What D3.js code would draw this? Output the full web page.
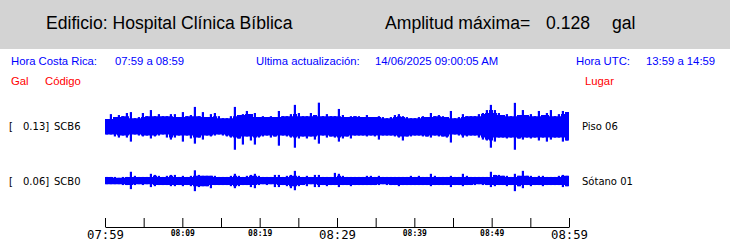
<!DOCTYPE html>
<html>
<head>
<meta charset="utf-8">
<script src="https://cdn.jsdelivr.net/npm/d3@7"></script>
<style>
  body { margin: 0; background: #fff; }
  svg { display: block; }
</style>
</head>
<body>
<svg id="chart"></svg>
<script>
// header info
var building = "Edificio: Hospital Clínica Bíblica";
var maxAmplitude = "0.128";
var timeCR = "07:59 a 08:59";
var timeUTC = "13:59 a 14:59";
var lastUpdate = "14/06/2025 09:00:05 AM";

// stations
var stations = ["SCB6", "SCB0"];
var places = ["Piso 06", "Sótano 01"];
var peaks = ["0.13", "0.06"];

// envelope of each trace in gal, one value per time bin (max above, min below)
var scb6Max = [0.039, 0.066, 0.050, 0.061, 0.055, 0.072, 0.077, 0.044, 0.050, 0.072, 0.055, 0.088, 0.055, 0.066, 0.055, 0.055, 0.066, 0.066, 0.050, 0.077, 0.055, 0.061, 0.105, 0.055, 0.077, 0.050, 0.066, 0.072, 0.055,
  0.044, 0.044, 0.055, 0.105, 0.061, 0.066, 0.083, 0.066, 0.072, 0.050, 0.055, 0.050, 0.055, 0.050, 0.083, 0.055, 0.055, 0.066, 0.116, 0.072, 0.055, 0.055, 0.072, 0.061, 0.128, 0.055, 0.066, 0.055, 0.055,
  0.094, 0.061, 0.050, 0.055, 0.055, 0.055, 0.050, 0.061, 0.050, 0.050, 0.055, 0.050, 0.044, 0.050, 0.061, 0.066, 0.055, 0.050, 0.044, 0.044, 0.050, 0.055, 0.050, 0.072, 0.055, 0.061, 0.055, 0.050, 0.083,
  0.044, 0.050, 0.066, 0.055, 0.055, 0.055, 0.066, 0.072, 0.088, 0.116, 0.088, 0.072, 0.061, 0.066, 0.055, 0.127, 0.061, 0.088, 0.061, 0.066, 0.055, 0.083, 0.061, 0.072, 0.088, 0.055, 0.066, 0.083, 0.077];
var scb6Min = [-0.044, -0.044, -0.055, -0.061, -0.050, -0.061, -0.083, -0.044, -0.050, -0.055, -0.050, -0.066, -0.055, -0.050, -0.044, -0.061, -0.072, -0.061, -0.050, -0.083, -0.050, -0.066, -0.094, -0.061, -0.072, -0.050, -0.055, -0.050, -0.044,
  -0.050, -0.055, -0.061, -0.127, -0.066, -0.099, -0.055, -0.077, -0.099, -0.061, -0.055, -0.050, -0.061, -0.055, -0.105, -0.050, -0.055, -0.061, -0.116, -0.066, -0.055, -0.066, -0.055, -0.072, -0.094, -0.050, -0.061, -0.055, -0.061,
  -0.083, -0.066, -0.055, -0.066, -0.050, -0.050, -0.050, -0.055, -0.050, -0.055, -0.072, -0.050, -0.050, -0.050, -0.055, -0.061, -0.077, -0.055, -0.055, -0.050, -0.050, -0.055, -0.055, -0.061, -0.050, -0.055, -0.055, -0.061, -0.088,
  -0.044, -0.050, -0.061, -0.055, -0.050, -0.050, -0.061, -0.072, -0.077, -0.116, -0.083, -0.061, -0.061, -0.066, -0.061, -0.127, -0.066, -0.072, -0.061, -0.066, -0.061, -0.077, -0.061, -0.083, -0.072, -0.061, -0.061, -0.083, -0.077];
var scb0Max = [0.022, 0.022, 0.022, 0.017, 0.022, 0.022, 0.050, 0.028, 0.022, 0.022, 0.022, 0.039, 0.033, 0.028, 0.022, 0.028, 0.033, 0.033, 0.022, 0.028, 0.022, 0.028, 0.058, 0.033, 0.028, 0.028, 0.028, 0.028, 0.022,
  0.022, 0.022, 0.028, 0.039, 0.028, 0.022, 0.028, 0.033, 0.039, 0.028, 0.022, 0.022, 0.022, 0.033, 0.033, 0.022, 0.028, 0.033, 0.055, 0.028, 0.022, 0.028, 0.022, 0.033, 0.033, 0.022, 0.022, 0.022, 0.044,
  0.039, 0.028, 0.022, 0.022, 0.022, 0.022, 0.022, 0.028, 0.028, 0.022, 0.028, 0.022, 0.022, 0.022, 0.022, 0.022, 0.022, 0.022, 0.028, 0.022, 0.028, 0.022, 0.022, 0.039, 0.028, 0.022, 0.022, 0.022, 0.028,
  0.022, 0.022, 0.039, 0.028, 0.022, 0.022, 0.022, 0.022, 0.022, 0.050, 0.033, 0.033, 0.028, 0.028, 0.022, 0.039, 0.028, 0.055, 0.028, 0.028, 0.022, 0.028, 0.028, 0.022, 0.022, 0.022, 0.028, 0.033, 0.028];
var scb0Min = [-0.017, -0.017, -0.017, -0.017, -0.022, -0.022, -0.044, -0.022, -0.017, -0.022, -0.017, -0.033, -0.028, -0.022, -0.022, -0.022, -0.028, -0.028, -0.022, -0.028, -0.022, -0.028, -0.055, -0.033, -0.028, -0.028, -0.039, -0.022, -0.022,
  -0.022, -0.022, -0.028, -0.039, -0.028, -0.022, -0.022, -0.033, -0.039, -0.022, -0.017, -0.022, -0.017, -0.033, -0.033, -0.022, -0.028, -0.039, -0.050, -0.028, -0.022, -0.028, -0.017, -0.033, -0.033, -0.022, -0.028, -0.022, -0.022,
  -0.033, -0.022, -0.022, -0.028, -0.022, -0.022, -0.022, -0.022, -0.022, -0.022, -0.022, -0.017, -0.022, -0.022, -0.022, -0.028, -0.022, -0.022, -0.022, -0.022, -0.022, -0.022, -0.022, -0.028, -0.022, -0.022, -0.022, -0.022, -0.033,
  -0.022, -0.022, -0.028, -0.022, -0.022, -0.022, -0.017, -0.022, -0.022, -0.033, -0.028, -0.022, -0.022, -0.028, -0.022, -0.055, -0.028, -0.039, -0.022, -0.028, -0.022, -0.022, -0.028, -0.022, -0.022, -0.022, -0.022, -0.033, -0.028];

// time axis, minutes after 07:59
var tickMinutes = [0, 5, 10, 15, 20, 25, 30, 35, 40, 45, 50, 55, 60];
var tickLabels = ["07:59", "", "08:09", "", "08:19", "", "08:29", "", "08:39", "", "08:49", "", "08:59"];
var bigLabels = ["07:59", "08:29", "08:59"];

var width = 730,
  height = 247;
var t0 = new Date(2025, 5, 14, 7, 59);
var t1 = new Date(2025, 5, 14, 8, 59);

var svg = d3.select("svg#chart").attr("width", width).attr("height", height);

var scaleX = d3.scaleTime().domain([t0, t1]).range([105, 569]);

var scaleY = d3.scaleLinear().domain([-0.13, 0.13]).range([24, -24]);

var traceCenters = [126.3, 181];

// header band
svg.append("rect")
  .attr("x", 0)
  .attr("y", 0)
  .attr("width", width)
  .attr("height", 49)
  .attr("fill", "#d3d3d3");

function addText(x, y, txt, size, color, family) {
  return svg.append("text")
    .attr("x", x)
    .attr("y", y)
    .attr("font-family", family || "'Liberation Sans', Arial, sans-serif")
    .attr("font-size", size)
    .attr("fill", color)
    .text(txt);
}

addText(46, 29, building, 17.6, "#000");
addText(385, 29, "Amplitud máxima=", 17.6, "#000");
addText(546, 29, maxAmplitude, 17.6, "#000");
addText(612, 29, "gal", 17.6, "#000");

addText(11, 65, "Hora Costa Rica:", 11.3, "#0000ff");
addText(115, 65, timeCR, 11.3, "#0000ff");
addText(256, 65, "Ultima actualización:", 11.3, "#0000ff");
addText(375, 65, lastUpdate, 11.3, "#0000ff");
addText(576, 65, "Hora UTC:", 11.3, "#0000ff");
addText(646, 65, timeUTC, 11.3, "#0000ff");

addText(11, 85, "Gal", 11.3, "#ff0000");
addText(45, 85, "Código", 11.3, "#ff0000");
addText(585, 85, "Lugar", 11.3, "#ff0000");

// traces
var binMs = 60 * 60000 / scb6Max.length;

function buildTrace(maxs, mins) {
  var pts = maxs.map(function (v, i) {
    // floor of the band = quietest of the neighbouring bins
    var lo = Math.max(0, i - 1), hi = Math.min(maxs.length, i + 2);
    return {
      t: new Date(+t0 + i * binMs),
      max: v,
      min: mins[i],
      bandMax: d3.min(maxs.slice(lo, hi)),
      bandMin: d3.max(mins.slice(lo, hi)),
    };
  });
  var last = pts[pts.length - 1];
  pts.push({ t: t1, max: last.max, min: last.min, bandMax: last.bandMax, bandMin: last.bandMin, end: true });
  return pts;
}

var traces = [buildTrace(scb6Max, scb6Min), buildTrace(scb0Max, scb0Min)];

var band = d3
  .area()
  .x(function (d) {
    return scaleX(d.t);
  })
  .y0(function (d) {
    return scaleY(d.bandMin);
  })
  .y1(function (d) {
    return scaleY(d.bandMax);
  })
  .curve(d3.curveStepAfter);

traces.forEach(function (tr, k) {
  var g = svg.append("g").attr("transform", "translate(0," + traceCenters[k] + ")");
  g.append("path")
    .attr("d", band(tr))
    .attr("fill", "#0000ff");

  g.selectAll("rect")
    .data(tr.filter(function (d) {
      return !d.end;
    }))
    .enter()
    .append("rect")
    .attr("x", function (d) {
      return scaleX(d.t) + 0.8;
    })
    .attr("width", 2.2)
    .attr("y", function (d) {
      return scaleY(d.max);
    })
    .attr("height", function (d) {
      return scaleY(d.min) - scaleY(d.max);
    })
    .attr("fill", "#0000ff");

  var fy = traceCenters[k] + 3.7;
  var sans = "'DejaVu Sans', Verdana, sans-serif";
  addText(9, fy, "[", 10, "#000", sans);
  addText(23, fy, peaks[k] + "]", 10, "#000", sans);
  addText(54, fy, stations[k], 10, "#000", sans);
  addText(582, fy, places[k], 10, "#000", sans);
});

// time axis
var xAxis = d3
  .axisBottom(scaleX)
  .tickValues(tickMinutes.map(function (m) {
    return new Date(+t0 + m * 60000);
  }))
  .tickSize(9)
  .tickSizeOuter(0)
  .tickFormat("");

var axisG = svg.append("g").attr("transform", "translate(0,227)").call(xAxis);
axisG.select(".domain").attr("stroke", "#000").attr("d", "M105.5,0.5H569.5");
axisG.selectAll(".tick line").attr("y1", 0).attr("y2", -9).attr("stroke", "#000");

axisG.selectAll(".tick")
  .append("text")
  .attr("fill", "#000")
  .attr("text-anchor", "middle")
  .attr("font-family", "'DejaVu Sans Mono', monospace")
  .attr("font-weight", function (d, i) {
    return bigLabels.indexOf(tickLabels[i]) >= 0 ? "normal" : "bold";
  })
  .attr("font-size", function (d, i) {
    return bigLabels.indexOf(tickLabels[i]) >= 0 ? 12.3 : 8;
  })
  .attr("y", function (d, i) {
    return bigLabels.indexOf(tickLabels[i]) >= 0 ? 12 : 8.7;
  })
  .text(function (d, i) {
    return tickLabels[i];
  });
</script>
</body>
</html>
